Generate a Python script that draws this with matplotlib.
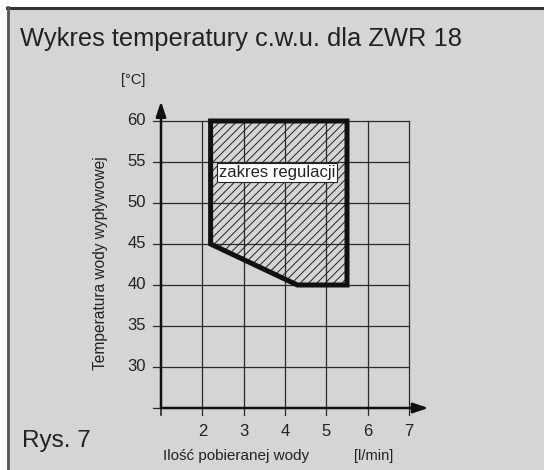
import matplotlib
matplotlib.use("Agg")
import matplotlib.pyplot as plt
from matplotlib.patches import Polygon, Rectangle

plt.rcParams['font.family'] = ['Liberation Sans', 'DejaVu Sans']
plt.rcParams['hatch.linewidth'] = 0.7

# Data
region_x = [2.2, 5.5, 5.5, 4.3, 2.2]
region_y = [60, 60, 40, 40, 45]
x_ticks = [2, 3, 4, 5, 6, 7]
y_ticks = [30, 35, 40, 45, 50, 55, 60]
x_min, x_max = 1, 7
y_min, y_max = 25, 60
title = "Wykres temperatury c.w.u. dla ZWR 18"
region_label = "zakres regulacji"

W, H = 544, 470
fig = plt.figure(figsize=(W / 100, H / 100), dpi=100, facecolor='white')

def fx(px):
    return px / W

def fy(py):
    return 1 - py / H

# background panel
bg = Rectangle((fx(7), fy(H + 10)), fx(W + 10) - fx(7), fy(7) - fy(H + 10),
               transform=fig.transFigure, facecolor='#d4d5d7', edgecolor='none', zorder=-10)
fig.add_artist(bg)
fig.add_artist(plt.Line2D([fx(7), fx(W)], [fy(7.5), fy(7.5)], color='#333333', lw=2.2,
                          transform=fig.transFigure, zorder=-9))
fig.add_artist(plt.Line2D([fx(7.5), fx(7.5)], [fy(7), fy(H)], color='#555555', lw=2.0,
                          transform=fig.transFigure, zorder=-9))

# axes placement: x=1 -> 161px, x=7 -> 409px ; y=25 -> 408px, y=60 -> 121px
xl, xr = 0.5, 7.6
yb, yt = 23, 63
pxu = (409 - 161) / 6
pyu = (408 - 121) / 35
left_px = 161 - (1 - xl) * pxu
right_px = 161 + (xr - 1) * pxu
bot_px = 408 + (25 - yb) * pyu
top_px = 121 - (yt - 60) * pyu
ax = fig.add_axes([fx(left_px), fy(bot_px), fx(right_px) - fx(left_px), fy(top_px) - fy(bot_px)])
ax.set_xlim(xl, xr)
ax.set_ylim(yb, yt)
ax.axis('off')
ax.patch.set_alpha(0)

grid_c = '#2a2a2a'
tick_x_ext = 8 / pxu
tick_y_ext = 7 / pyu
for yv in y_ticks:
    ax.plot([x_min - tick_x_ext, x_max], [yv, yv], color=grid_c, lw=0.9, zorder=2)
ax.plot([x_min - tick_x_ext, x_min], [y_min, y_min], color=grid_c, lw=0.9, zorder=2)
for xv in x_ticks:
    ax.plot([xv, xv], [y_min - tick_y_ext, y_max], color=grid_c, lw=0.9, zorder=2)
ax.plot([x_min, x_min], [y_min - tick_y_ext, y_min], color=grid_c, lw=1.2, zorder=2)

# region
poly = Polygon(list(zip(region_x, region_y)), closed=True, facecolor='none',
               edgecolor='#222222', hatch='////', lw=0, zorder=3)
ax.add_patch(poly)
outline = Polygon(list(zip(region_x, region_y)), closed=True, facecolor='none',
                  edgecolor='#111111', lw=3.6, joinstyle='miter', zorder=5)
ax.add_patch(outline)

# axes with arrows
ax.annotate('', xy=(x_min, 62.4), xytext=(x_min, y_min), zorder=6,
            arrowprops=dict(arrowstyle='-|>,head_length=0.9,head_width=0.3', color='#111111', lw=1.8,
                            shrinkA=0, shrinkB=0))
ax.annotate('', xy=(7.47, y_min), xytext=(x_min, y_min), zorder=6,
            arrowprops=dict(arrowstyle='-|>,head_length=0.9,head_width=0.3', color='#111111', lw=1.8,
                            shrinkA=0, shrinkB=0))

# tick labels
for yv in y_ticks:
    ax.text(x_min - 15 / pxu, yv, str(yv), ha='right', va='center', fontsize=12, color='#222222')
for xv in x_ticks:
    ax.text(xv, y_min - 24 / pyu, str(xv), ha='center', va='center', fontsize=12, color='#222222')

# region label
ax.text(3.81, 53.7, region_label, ha='center', va='center', fontsize=12, color='#222222', zorder=7,
        bbox=dict(boxstyle='square,pad=0.12', facecolor='white', edgecolor='#222222', lw=0.8))

# texts
fig.text(fx(20), fy(39), title, ha='left', va='center', fontsize=18.4, color='#222222')
fig.text(fx(133), fy(80), '[°C]', ha='center', va='center', fontsize=10.5, color='#222222')
fig.text(fx(100), fy(263), 'Temperatura wody wypływowej', ha='center', va='center', rotation=90,
         fontsize=11.2, color='#222222')
fig.text(fx(163), fy(456), 'Ilość pobieranej wody', ha='left', va='center', fontsize=11, color='#222222')
fig.text(fx(374), fy(456), '[l/min]', ha='center', va='center', fontsize=10.5, color='#222222')
fig.text(fx(22), fy(441), 'Rys. 7', ha='left', va='center', fontsize=17.5, color='#222222')

fig.savefig('out.png', dpi=100, facecolor='white')
